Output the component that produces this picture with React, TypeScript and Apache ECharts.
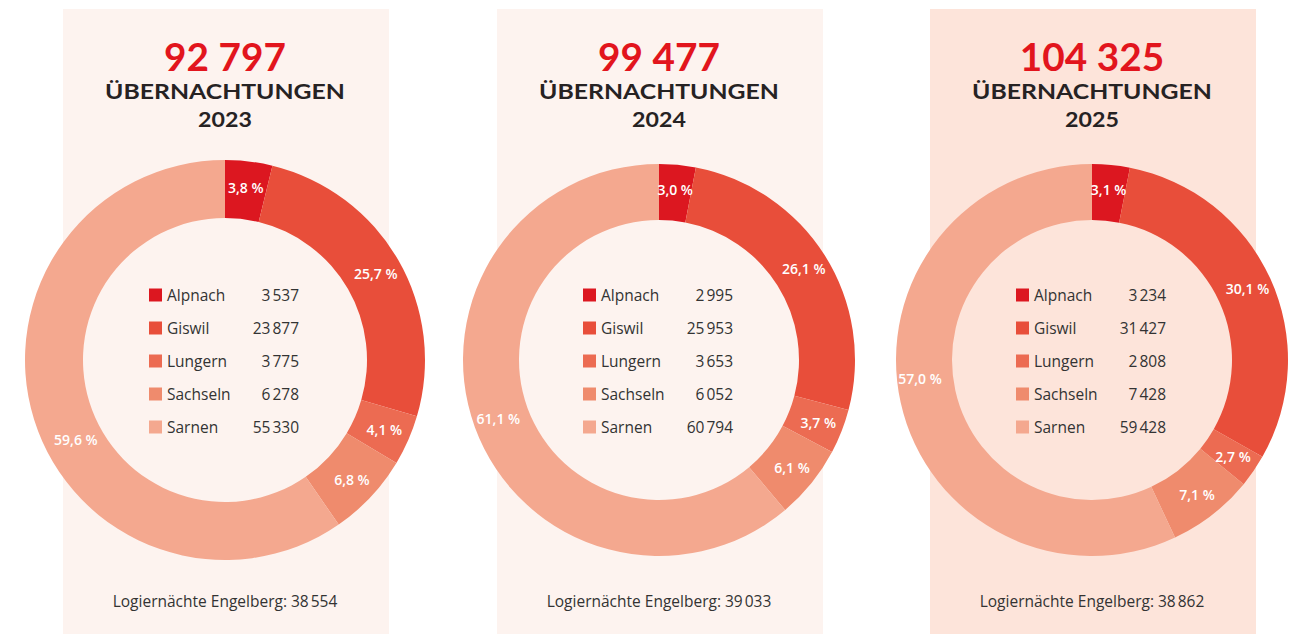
import React, { useEffect, useRef } from "react";
import * as echarts from "echarts";

const regions = ["Alpnach", "Giswil", "Lungern", "Sachseln", "Sarnen"];
const colors = ["#dc1720", "#e84e3a", "#ec6b52", "#ef8b6d", "#f4a88f"];
const years = ["2023", "2024", "2025"];
const totals = ["92\u202F797", "99\u202F477", "104\u202F325"];
const values2023 = [3537, 23877, 3775, 6278, 55330];
const values2024 = [2995, 25953, 3653, 6052, 60794];
const values2025 = [3234, 31427, 2808, 7428, 59428];
const engelberg = ["38\u202F554", "39\u202F033", "38\u202F862"];
const allValues = [values2023, values2024, values2025];

const fmtNum = (v: number) => {
  const s = String(v);
  if (s.length <= 3) return s;
  return s.slice(0, s.length - 3) + "\u202F" + s.slice(s.length - 3);
};

export default function App() {
  const ref = useRef<HTMLDivElement>(null);
  useEffect(() => {
    const chart = echarts.init(ref.current!, null, { renderer: "svg" });
    const panelX = [63, 497, 930];
    const panelW = 326;
    const centers = [225, 659, 1092];
    const radii = [[142, 200], [140, 196], [140, 196]];
    const legendLeft = [149, 583, 1016];
    const bgs = ["#fdf3ef", "#fdf3ef", "#fde4da"];
    // label nudges for the large Sarnen slice (label styling only)
    const sarnenLabelOffset = [[17, 28], [0, 0], [-5, -19]];

    const graphic: any[] = [];
    years.forEach((y, i) => {
      graphic.push({
        type: "rect",
        z: -10,
        shape: { x: panelX[i], y: 9, width: panelW, height: 630 },
        style: { fill: bgs[i] },
      });
      graphic.push({
        type: "text",
        x: centers[i],
        y: 56,
        scaleX: 1.02,
        style: {
          text: totals[i],
          fill: "#e2151d",
          font: "bold 38px Lato",
          align: "center",
          verticalAlign: "middle",
        },
      });
      graphic.push({
        type: "text",
        x: centers[i],
        y: 91,
        scaleX: 1.24,
        style: {
          text: "ÜBERNACHTUNGEN",
          fill: "#262223",
          font: "bold 20px Lato",
          align: "center",
          verticalAlign: "middle",
        },
      });
      graphic.push({
        type: "text",
        x: centers[i],
        y: 120,
        scaleX: 1.16,
        style: {
          text: y,
          fill: "#262223",
          font: "bold 20px Lato",
          align: "center",
          verticalAlign: "middle",
        },
      });
      graphic.push({
        type: "text",
        x: centers[i],
        y: 601,
        style: {
          text: "Logiernächte Engelberg: " + engelberg[i],
          fill: "#333",
          font: "15.5px 'Open Sans'",
          align: "center",
          verticalAlign: "middle",
        },
      });
    });

    const series = allValues.map((vals, i) => ({
      type: "pie",
      name: years[i],
      center: [centers[i], 360],
      radius: radii[i],
      startAngle: 90,
      clockwise: true,
      silent: true,
      avoidLabelOverlap: false,
      itemStyle: { borderWidth: 0 },
      label: {
        show: true,
        position: "inside",
        color: "#fff",
        fontFamily: "'Open Sans'",
        fontWeight: 600,
        fontSize: 14,
        formatter: (p: any) => p.percent.toFixed(1).replace(".", ",") + " %",
      },
      labelLine: { show: false },
      data: regions.map((r, k) => ({
        name: r,
        value: vals[k],
        itemStyle: { color: colors[k] },
        ...(r === "Sarnen" ? { label: { offset: sarnenLabelOffset[i] } } : {}),
      })),
    }));

    const legend = allValues.map((vals, i) => ({
      orient: "vertical",
      left: legendLeft[i],
      top: 286,
      padding: 0,
      icon: "rect",
      itemWidth: 13,
      itemHeight: 13,
      itemGap: 15,
      selectedMode: false,
      data: regions,
      formatter: (name: string) => {
        const k = regions.indexOf(name);
        return "{n|" + name + "}{v|" + fmtNum(vals[k]) + "}";
      },
      textStyle: {
        color: "#333",
        fontFamily: "'Open Sans'",
        fontSize: 15.5,
        lineHeight: 18,
        rich: {
          n: { width: 82, fontSize: 15.5, lineHeight: 18, fontFamily: "'Open Sans'", color: "#333" },
          v: { width: 50, align: "right", fontSize: 15.5, lineHeight: 18, fontFamily: "'Open Sans'", color: "#333" },
        },
      },
    }));

    chart.setOption({
      animation: false,
      backgroundColor: "#ffffff",
      graphic,
      legend,
      series,
    });
    return () => chart.dispose();
  }, []);
  return (
    <div
      ref={ref}
      style={{ position: "fixed", left: 0, top: 0, width: 1304, height: 634 }}
    />
  );
}
